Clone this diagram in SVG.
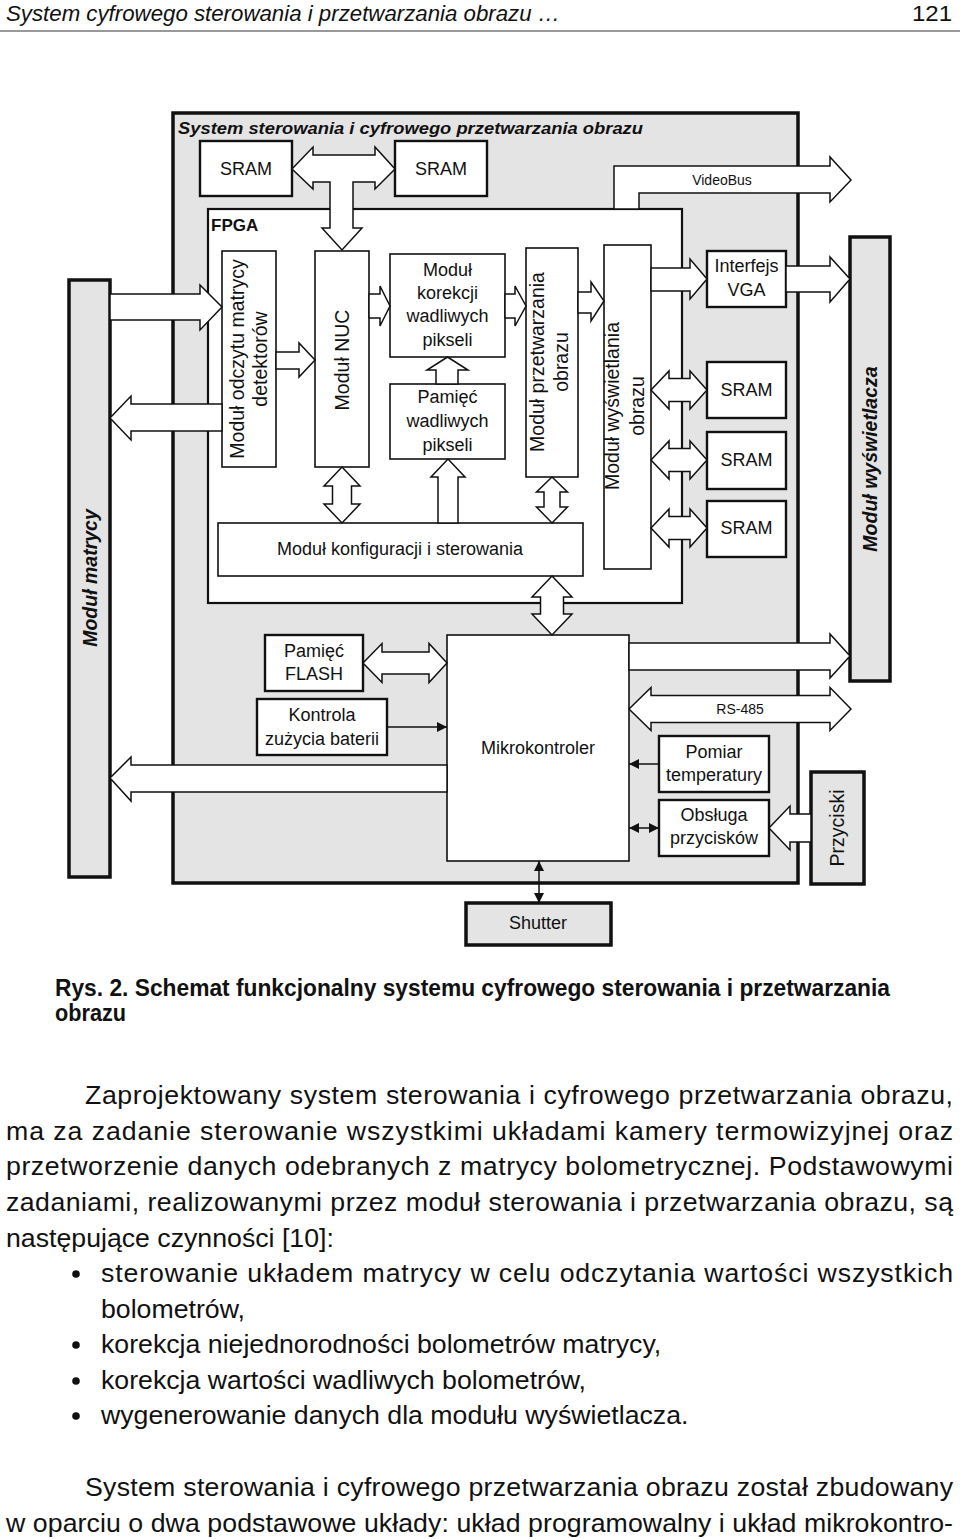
<svg xmlns="http://www.w3.org/2000/svg" width="960" height="1539" viewBox="0 0 960 1539">
<style>
text{font-family:"Liberation Sans",Arial,sans-serif;fill:#111}
.t{font-size:18px;text-anchor:middle}
.r{font-size:19.5px}
.box{fill:#fff;stroke:#111;stroke-width:1.6}
.bx2{fill:#fff;stroke:#111;stroke-width:2.4}
.gbox{fill:#e4e4e4;stroke:#111;stroke-width:3.5}
.ar{fill:#fff;stroke:#111;stroke-width:1.5;stroke-linejoin:miter}
.ln{stroke:#111;stroke-width:1.5;fill:none}
.bi{font-weight:bold;font-style:italic}
.body text{font-size:26.7px}
</style>
<defs>
<marker id="ah" viewBox="0 0 10 10" refX="10" refY="5" markerWidth="11" markerHeight="10" markerUnits="userSpaceOnUse" orient="auto-start-reverse">
<path d="M0,0 L10,5 L0,10 z" fill="#111"/>
</marker>
</defs>
<rect width="960" height="1539" fill="#fff"/>

<g id="header">
<text x="6" y="21" font-size="22" font-style="italic" textLength="554" lengthAdjust="spacingAndGlyphs">System cyfrowego sterowania i przetwarzania obrazu …</text>
<text x="912" y="21" font-size="22" textLength="40" lengthAdjust="spacingAndGlyphs">121</text>
<line x1="0" y1="31" x2="960" y2="31" stroke="#777" stroke-width="1.5"/>
</g>

<g id="system">
<rect class="gbox" x="173" y="113" width="625" height="770"/>
<text x="178" y="134" font-size="16.5" class="bi" textLength="465" lengthAdjust="spacingAndGlyphs">System sterowania i cyfrowego przetwarzania obrazu</text>
</g>

<g id="fpga">
<rect x="208" y="209" width="474" height="394" fill="#fff" stroke="#111" stroke-width="2.2"/>
<text x="211" y="231" font-size="17" font-weight="bold">FPGA</text>
</g>

<g id="modul-matrycy">
<rect class="gbox" x="69" y="280" width="41" height="597"/>
<text class="t r bi" transform="translate(90,578) rotate(-90)" y="7">Moduł matrycy</text>
</g>
<g id="modul-wyswietlacza">
<rect class="gbox" x="850" y="237" width="40" height="444"/>
<text class="t r bi" transform="translate(870,459) rotate(-90)" y="7">Moduł wyświetlacza</text>
</g>
<g id="przyciski">
<rect class="gbox" x="811" y="772" width="53" height="112"/>
<text class="t r" transform="translate(837,828) rotate(-90)" y="7">Przyciski</text>
</g>
<g id="shutter">
<rect class="gbox" x="466" y="903" width="145" height="42"/>
<text class="t" x="538" y="929">Shutter</text>
</g>

<g id="sram-top-1"><rect class="bx2" x="200" y="141" width="92" height="55"/><text class="t" x="246" y="174.5">SRAM</text></g>
<g id="sram-top-2"><rect class="bx2" x="395" y="141" width="92" height="55"/><text class="t" x="441" y="174.5">SRAM</text></g>

<g id="modul-odczytu">
<rect class="box" x="222" y="251" width="54" height="216"/>
<text class="t r" transform="translate(249,359) rotate(-90)"><tspan x="0" y="-5">Moduł odczytu matrycy</tspan><tspan x="0" y="18">detektorów</tspan></text>
</g>
<g id="modul-nuc">
<rect class="box" x="315" y="251" width="54" height="216"/>
<text class="t r" transform="translate(342,360) rotate(-90)" y="7">Moduł NUC</text>
</g>
<g id="modul-korekcji">
<rect class="box" x="390" y="254" width="115" height="103"/>
<text class="t"><tspan x="447.5" y="276">Moduł</tspan><tspan x="447.5" y="299">korekcji</tspan><tspan x="447.5" y="322">wadliwych</tspan><tspan x="447.5" y="346">pikseli</tspan></text>
</g>
<g id="pamiec-wadliwych">
<rect class="box" x="390" y="384" width="115" height="75"/>
<text class="t"><tspan x="447.5" y="403">Pamięć</tspan><tspan x="447.5" y="427">wadliwych</tspan><tspan x="447.5" y="451">pikseli</tspan></text>
</g>
<g id="modul-przetwarzania">
<rect class="box" x="526" y="248" width="52" height="229"/>
<text class="t r" transform="translate(552,362) rotate(-90)"><tspan x="0" y="-8">Moduł przetwarzania</tspan><tspan x="0" y="16">obrazu</tspan></text>
</g>
<g id="modul-wyswietlania">
<rect class="box" x="604" y="245" width="47" height="324"/>
<text class="t r" transform="translate(627,406) rotate(-90)"><tspan x="0" y="-8">Moduł wyświetlania</tspan><tspan x="0" y="17">obrazu</tspan></text>
</g>
<g id="modul-konfiguracji">
<rect class="box" x="218" y="523" width="365" height="53"/>
<text class="t" x="400" y="555">Moduł konfiguracji i sterowania</text>
</g>
<g id="interfejs-vga">
<rect class="bx2" x="707" y="251" width="79" height="56"/>
<text class="t"><tspan x="746.5" y="272">Interfejs</tspan><tspan x="746.5" y="296">VGA</tspan></text>
</g>
<g id="sram-1"><rect class="bx2" x="707" y="362" width="79" height="56"/><text class="t" x="746.5" y="396">SRAM</text></g>
<g id="sram-2"><rect class="bx2" x="707" y="432" width="79" height="57"/><text class="t" x="746.5" y="466">SRAM</text></g>
<g id="sram-3"><rect class="bx2" x="707" y="501" width="79" height="56"/><text class="t" x="746.5" y="534">SRAM</text></g>

<g id="pamiec-flash">
<rect class="bx2" x="265" y="635" width="98" height="56"/>
<text class="t"><tspan x="314" y="657">Pamięć</tspan><tspan x="314" y="680">FLASH</tspan></text>
</g>
<g id="kontrola-baterii">
<rect class="bx2" x="257" y="699" width="130" height="56"/>
<text class="t"><tspan x="322" y="721">Kontrola</tspan><tspan x="322" y="745">zużycia baterii</tspan></text>
</g>
<g id="mikrokontroler">
<rect class="box" x="447" y="635" width="182" height="226"/>
<text class="t" x="538" y="754">Mikrokontroler</text>
</g>
<g id="pomiar-temperatury">
<rect class="bx2" x="659" y="736" width="110" height="56"/>
<text class="t"><tspan x="714" y="758">Pomiar</tspan><tspan x="714" y="781">temperatury</tspan></text>
</g>
<g id="obsluga-przyciskow">
<rect class="bx2" x="659" y="800" width="110" height="56"/>
<text class="t"><tspan x="714" y="821">Obsługa</tspan><tspan x="714" y="844">przycisków</tspan></text>
</g>

<g id="connectors">
<polygon class="ar" points="292,169 313,147 313,155 375,155 375,147 395,169 375,189 375,182 353,182 353,228 362,228 342,250 322,228 330,228 330,182 313,182 313,189"/>
<polygon class="ar" points="614,209 614,166 830,166 830,157 851,180 830,202 830,193 639,193 639,209"/>
<text x="722" y="185" font-size="14" text-anchor="middle">VideoBus</text>
<polygon class="ar" points="110,294 200,294 200,285 222,307 200,330 200,320 110,320"/>
<polygon class="ar" points="222,404 131,404 131,396 110,418 131,440 131,431 222,431"/>
<polygon class="ar" points="276,352 299,352 299,343 315,360 299,377 299,369 276,369"/>
<polygon class="ar" points="369,294 380,294 380,286 390,306 380,326 380,318 369,318"/>
<polygon class="ar" points="505,294 515,294 515,286 526,306 515,326 515,318 505,318"/>
<polygon class="ar" points="578,292 591,292 591,282 604,301 591,321 591,313 578,313"/>
<polygon class="ar" points="651,268 690,268 690,259 707,279 690,299 690,291 651,291"/>
<polygon class="ar" points="786,266 830,266 830,257 850,279 830,302 830,292 786,292"/>
<polygon class="ar" points="436,384 436,370 427,370 447.5,357 468,370 458,370 458,384"/>
<polygon class="ar" points="438,523 438,477 431,477 448,459 465,477 458,477 458,523"/>
<polygon class="ar" points="342,467 360,486 351.5,486 351.5,504 360,504 342,523 324,504 332.5,504 332.5,486 324,486"/>
<polygon class="ar" points="552,477 567.5,492 560,492 560,507 567.5,507 552,523 536.5,507 544,507 544,492 536.5,492"/>
<polygon class="ar" points="552,576 572,597 563.5,597 563.5,614 572,614 552,635 532,614 540.5,614 540.5,597 532,597"/>
<polygon class="ar" points="651,390 669,371 669,378.5 690,378.5 690,371 707,390 690,409 690,401.5 669,401.5 669,409"/>
<polygon class="ar" points="651,460 669,441 669,448.5 690,448.5 690,441 707,460 690,479 690,471.5 669,471.5 669,479"/>
<polygon class="ar" points="651,528 669,509 669,516.5 690,516.5 690,509 707,528 690,547 690,539.5 669,539.5 669,547"/>
<polygon class="ar" points="363,663 382,643.5 382,652 429,652 429,643.5 447,663 429,682.5 429,674 382,674 382,682.5"/>
<polygon class="ar" points="447,765 131,765 131,757 110,778 131,801 131,792 447,792"/>
<polygon class="ar" points="629,643 830,643 830,634 850,656 830,678 830,670 629,670"/>
<polygon class="ar" points="629,709 651,687.5 651,695.5 830,695.5 830,687.5 851,709 830,730.5 830,722.5 651,722.5 651,730.5"/>
<text x="740" y="714" font-size="14" text-anchor="middle">RS-485</text>
<polygon class="ar" points="811,814 790,814 790,806 769,828 790,850 790,842 811,842"/>
<line class="ln" x1="387" y1="727" x2="447" y2="727" marker-end="url(#ah)"/>
<line class="ln" x1="659" y1="764" x2="629" y2="764" marker-end="url(#ah)"/>
<line class="ln" x1="629" y1="828" x2="659" y2="828" marker-start="url(#ah)" marker-end="url(#ah)"/>
<line class="ln" x1="539" y1="861" x2="539" y2="903" marker-start="url(#ah)" marker-end="url(#ah)"/>
</g>

<g id="caption">
<text x="55" y="996" font-size="24" font-weight="bold" textLength="835" lengthAdjust="spacingAndGlyphs">Rys. 2. Schemat funkcjonalny systemu cyfrowego sterowania i przetwarzania</text>
<text x="55" y="1021" font-size="24" font-weight="bold" textLength="71" lengthAdjust="spacingAndGlyphs">obrazu</text>
</g>

<g id="body-text" class="body">
<text x="85" y="1104" textLength="868" lengthAdjust="spacing">Zaprojektowany system sterowania i cyfrowego przetwarzania obrazu,</text>
<text x="6" y="1140" textLength="947" lengthAdjust="spacing">ma za zadanie sterowanie wszystkimi układami kamery termowizyjnej oraz</text>
<text x="6" y="1175" textLength="947" lengthAdjust="spacing">przetworzenie danych odebranych z matrycy bolometrycznej. Podstawowymi</text>
<text x="6" y="1211" textLength="947" lengthAdjust="spacing">zadaniami, realizowanymi przez moduł sterowania i przetwarzania obrazu, są</text>
<text x="6" y="1247">następujące czynności [10]:</text>
<circle cx="76" cy="1274" r="3.8" fill="#111"/>
<text x="101" y="1282" textLength="852" lengthAdjust="spacing">sterowanie układem matrycy w celu odczytania wartości wszystkich</text>
<text x="101" y="1318">bolometrów,</text>
<circle cx="76" cy="1345" r="3.8" fill="#111"/>
<text x="101" y="1353">korekcja niejednorodności bolometrów matrycy,</text>
<circle cx="76" cy="1381" r="3.8" fill="#111"/>
<text x="101" y="1389">korekcja wartości wadliwych bolometrów,</text>
<circle cx="76" cy="1416" r="3.8" fill="#111"/>
<text x="101" y="1424">wygenerowanie danych dla modułu wyświetlacza.</text>
<text x="85" y="1496" textLength="868" lengthAdjust="spacing">System sterowania i cyfrowego przetwarzania obrazu został zbudowany</text>
<text x="6" y="1532" textLength="947" lengthAdjust="spacing">w oparciu o dwa podstawowe układy: układ programowalny i układ mikrokontro-</text>
</g>
</svg>
